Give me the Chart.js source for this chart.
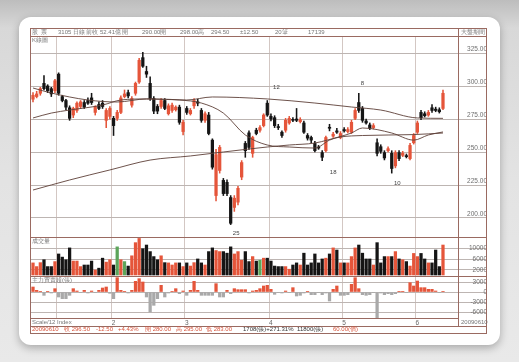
<!DOCTYPE html>
<html>
<head>
<meta charset="utf-8">
<script src="https://cdn.jsdelivr.net/npm/chart.js@4.4.1/dist/chart.umd.min.js"></script>
<style>
html, body { margin: 0; padding: 0; }
body {
    width: 519px; height: 362px; overflow: hidden; position: relative;
    background: linear-gradient(180deg, #bdbdbd 0px, #d8d8d8 28px, #e3e3e3 180px, #e9e9e9 362px);
    font-family: "Liberation Sans", "DejaVu Sans", sans-serif;
}
#card {
    position: absolute; left: 19px; top: 17px; width: 481px; height: 328px;
    background: #fff; border-radius: 12px; box-shadow: 0 3px 9px rgba(0,0,0,0.28);
}
#wrap { position: absolute; left: 0; top: 0; width: 519px; height: 362px; filter: blur(0.35px); }
canvas { position: absolute; display: block; }
.ln { position: absolute; background: #9a6a61; }
.t { position: absolute; font-size: 6px; line-height: 7px; color: #777; white-space: nowrap; }
.r { color: #d9553c; }
.k { color: #333; }
.mk { position: absolute; font-size: 6px; color: #444; transform: translate(-50%, -50%); white-space: nowrap; }
</style>
</head>
<body>
<div id="card"></div>
<div id="wrap">
    <canvas id="price" width="457" height="201" style="left:30px;top:36px"></canvas>
    <canvas id="vol" width="457" height="39" style="left:30px;top:237px"></canvas>
    <canvas id="net" width="457" height="50" style="left:30px;top:276px"></canvas>

    <!-- frame lines -->
    <div class="ln" style="left:30px;top:28px;width:457px;height:1px"></div>
    <div class="ln" style="left:30px;top:36px;width:457px;height:1px"></div>
    <div class="ln" style="left:30px;top:237px;width:457px;height:1px"></div>
    <div class="ln" style="left:30px;top:276px;width:457px;height:1px"></div>
    <div class="ln" style="left:30px;top:326px;width:457px;height:1px"></div>
    <div class="ln" style="left:30px;top:333px;width:457px;height:1px"></div>
    <div class="ln" style="left:30px;top:28px;width:1px;height:305px"></div>
    <div class="ln" style="left:486px;top:28px;width:1px;height:305px"></div>
    <div class="ln" style="left:458px;top:28px;width:1px;height:298px"></div>

    <!-- header row -->
    <span class="t" style="left:32px;top:29px">股</span>
    <span class="t" style="left:41px;top:29px">票</span>
    <span class="t" style="left:58px;top:29px">3105 日線</span>
    <span class="t" style="left:86px;top:29px">前收</span>
    <span class="t" style="left:100px;top:29px">52.41億</span>
    <span class="t" style="left:122px;top:29px">開</span>
    <span class="t" style="left:142px;top:29px">290.00開</span>
    <span class="t" style="left:180px;top:29px">298.00高</span>
    <span class="t" style="left:211px;top:29px">294.50</span>
    <span class="t" style="left:240px;top:29px">±12.50</span>
    <span class="t" style="left:275px;top:29px">20筆</span>
    <span class="t" style="left:308px;top:29px">17139</span>
    <span class="t" style="left:461px;top:29px">大盤期間</span>

    <!-- panel tags -->
    <span class="t" style="left:32px;top:37px">K線圖</span>
    <span class="t" style="left:32px;top:238px">成交量</span>
    <span class="t" style="left:32px;top:277px">主力買賣超(張)</span>

    <!-- date row and info row -->
    <span class="t" style="left:32px;top:319px">Scale/12 Index</span>
    <span class="t" style="left:461px;top:319px">20090610</span>
    <span class="t r" style="left:32px;top:326px">20090610</span>
    <span class="t r" style="left:64px;top:326px">收 296.50</span>
    <span class="t r" style="left:96px;top:326px">-12.50</span>
    <span class="t r" style="left:118px;top:326px">+4.43%</span>
    <span class="t r" style="left:145px;top:326px">開 280.00</span>
    <span class="t r" style="left:176px;top:326px">高 295.00</span>
    <span class="t r" style="left:206px;top:326px">低 283.00</span>
    <span class="t k" style="left:243px;top:326px">1708(張)+271.31%</span>
    <span class="t k" style="left:297px;top:326px">11800(張)</span>
    <span class="t r" style="left:333px;top:326px">60.00(價)</span>
</div>

<script>
// === Data (one entry per trading day) ===
var opens = [
    290, 292, 294.5, 302, 300, 298, 296.5, 309, 292, 289,
    283.5, 278, 281.5, 284.5, 287.5, 289, 291, 280, 286, 287,
    274, 277, 275.5, 275.5, 280, 292, 295, 285.5, 294.5, 303,
    321.5, 311, 302, 290.5, 284.5, 284.5, 289, 279, 281.5, 282,
    284, 265.5, 283, 279, 285, 288, 281.5, 274, 278, 259,
    217, 236, 228.5, 227, 215.5, 208, 212, 231, 256.5, 264.5,
    249, 266.5, 266.5, 270, 287, 277, 276, 269, 265, 266.5,
    272, 274.5, 275, 273, 272, 262.5, 261, 256.5, 253.5, 249.5,
    251, 268.5, 262, 266, 261, 267, 265.5, 265, 275.5, 287.5,
    283, 273.5, 270.5, 268.5, 257, 254, 249.5, 251, 249, 239.5,
    249.5, 247.5, 247, 245, 257, 265, 280, 279, 278, 283.5,
    282.5, 282, 283
];
var closes = [
    293, 294, 298, 298, 296.5, 294, 304, 294.5, 289, 284,
    275.5, 283, 287, 288, 284, 287, 287.5, 284.5, 283, 284.5,
    281.5, 283, 270, 280, 291, 294, 292.5, 290.5, 302, 319.5,
    315, 309, 290.5, 281, 281, 289, 283, 285, 285.5, 284,
    272.5, 272.5, 280, 281.5, 289, 287, 274, 279, 264, 238.5,
    248, 253.5, 218.5, 218.5, 196, 215, 222.5, 242, 251, 253.5,
    261, 264, 268.5, 278, 278, 275, 270, 268.5, 262.5, 274,
    275.5, 274, 274, 274.5, 265, 260.5, 259, 251, 253, 246,
    261, 268, 263.5, 265, 264, 266, 267, 272.5, 281.5, 281.5,
    274, 272, 268, 270, 249, 250.5, 245.5, 252.5, 237.5, 249.5,
    245, 249, 246.5, 255, 262.5, 272, 276, 277.5, 280, 281.5,
    281.5, 280.5, 294.5
];
var highs = [
    295, 296, 299, 308, 301, 299, 305, 310, 293, 290,
    285, 284, 288, 289, 289, 291, 294.5, 285, 288, 289,
    283, 284.5, 277, 281.5, 292.5, 297, 297, 292, 303, 321,
    325.5, 315, 307, 292, 286, 290.5, 290.5, 286.5, 287, 285,
    285.5, 274, 284.5, 283, 290.5, 290, 283, 280.5, 280, 260,
    252, 255, 230, 229, 217, 217, 224, 243.5, 258, 266,
    262, 268, 270, 279, 289, 279, 277.5, 271, 266, 275.5,
    277, 276, 283, 276, 273.5, 264, 262, 258, 255, 251,
    262, 271, 265, 268, 265.5, 268.5, 268.5, 274, 283, 294.5,
    284.5, 275, 272, 271.5, 260, 255.5, 251, 254, 251, 251,
    251, 250.5, 248.5, 256.5, 264, 273.5, 281.5, 280.5, 281.5, 286,
    284, 283.5, 297
];
var lows = [
    288, 291, 293, 297, 295, 292, 295, 293, 288, 282,
    274, 276, 280, 283, 283, 286, 286, 278, 282, 283,
    268.5, 275, 262.5, 274, 279, 291, 291, 284, 293, 302,
    314, 306.5, 289, 279, 279, 283, 282, 278, 280, 281,
    271, 263, 278.5, 278, 283, 285, 272.5, 272.5, 263, 237,
    213, 234, 217, 217, 195, 205, 210, 229, 246, 252,
    246, 263, 265, 269, 277, 273.5, 268.5, 267, 261, 265,
    271, 273, 273, 272, 264, 259, 257, 250, 252, 243.5,
    250, 266, 261, 264, 260, 265, 264.5, 264, 274.5, 280,
    272.5, 271, 267, 267.5, 247, 249, 244, 250, 234, 238,
    243.5, 246.5, 245.5, 244, 256, 264, 274.5, 276.5, 277, 280,
    280.5, 279.5, 282
];
var volumes = [
    4600, 3200, 4700, 5800, 3200, 3200, 5100, 8000, 6800, 5800,
    10300, 5300, 5300, 3200, 3800, 3800, 5300, 1900, 2600, 6400,
    4900, 5800, 3800, 10700, 5800, 5100, 3400, 7300, 12300, 13900,
    10000, 11400, 8900, 7000, 5800, 7300, 4700, 4600, 3800, 4600,
    4600, 3200, 4600, 3400, 4700, 6100, 4600, 3800, 8900, 10300,
    9300, 8900, 8900, 8300, 10700, 8000, 8900, 5600, 8900, 5100,
    7000, 5300, 5600, 6400, 6400, 5300, 3400, 3200, 3200, 3200,
    2200, 3800, 4600, 3800, 8300, 3800, 4600, 8000, 4600, 6100,
    6400, 8000, 10300, 9500, 4600, 4600, 4600, 7000, 10300, 11400,
    8300, 6100, 6100, 3800, 12300, 4600, 7000, 7000, 7000, 8900,
    6100, 5800, 5100, 3400, 8200, 7000, 8200, 6100, 4600, 4600,
    9500, 3200, 11400
];
var volFlatDays = [23, 25, 62];
var netBuy = [
    1500, 500, 200, -1000, 200, -300, 1000, -1500, -2000, -2000,
    -1000, 1000, 300, -200, 500, -300, 300, -200, 500, 1200,
    1500, -400, -2000, 4300, 500, 200, -300, 500, 3200, 4000,
    3000, -1500, -6000, -4000, -2000, 2000, -1500, -300, 200, 1000,
    -500, 300, -1000, 500, 3200, 500, -1000, -1000, -1000, -1000,
    2500, -1500, -1500, 500, -500, 1000, 700, 700, 700, -300,
    300, 500, 1000, 1800, 2000, 800, -700, -200, -300, 300,
    -200, 1300, -1200, -1000, -300, 200, -800, -800, -200, -800,
    -300, -2700, 800, 1800, -1000, -1000, -800, 2300, 4300, 1000,
    -800, -1000, -800, -200, -7700, -300, -800, -500, -800, -500,
    100, 100, -200, 2800, 1800, 3300, 1300, 1300, 800, 800,
    300, -200, 200
];
// moving average lines, read as [day, value]
var maShort = [[0, 275.8], [5, 279.5], [10, 281.8], [19, 285.6], [24, 289.4], [31, 290.2], [40, 289.4],
    [46, 287.1], [52, 279.5], [58, 262.9], [64, 255.3], [70, 253.8], [77, 253], [81, 259],
    [87, 264.4], [90, 268.2], [98, 264.4], [104, 259], [108, 262.9], [112, 265.2]];
var maMid = [[0, 298.5], [5, 294.7], [15, 289.4], [23, 287.9], [31, 290.2], [42, 289.4], [49, 291.7],
    [64, 290.2], [77, 287.1], [87, 284.1], [95, 281.8], [105, 275.8], [112, 275.5]];
var maLong = [[0, 221.2], [10, 228.8], [21, 236.4], [32, 243.9], [43, 247], [52, 250], [64, 253.8],
    [70, 255.3], [77, 256.8], [84, 261.4], [90, 262.5], [104, 263.2], [112, 264.4]];

var monthStart = [6.5, 21.5, 41.5, 64.5, 84.5, 104.5];
var monthText = ['', '2', '3', '4', '5', '6'];
var priceTicks = [200, 225, 250, 275, 300, 325];
var volTicks = [2000, 6000, 10000];
var netTicks = [-6000, -3000, 0, 3000];

var markIdx = [55.5, 66.5, 82, 90, 99.5];
var markVal = [188.5, 299, 235, 302.5, 226.5];
var markText = ['25', '12', '18', '8', '10'];

// === Styles ===
var UP = '#e5553a';
var DOWN = '#151515';
var FLAT = '#5da55a';
var GRID_V = '#d3c7c3';
var GRID_H = '#bdb5b2';
var LABEL = '#6f6f6f';
var MA_COLOR = '#5e4038';

Chart.defaults.font.family = '"Liberation Sans", "DejaVu Sans", sans-serif';
Chart.defaults.font.size = 6.5;
Chart.defaults.color = LABEL;

function isUp(i) { return closes[i] >= opens[i]; }

function xAxis(showLabels) {
    return {
        type: 'linear',
        min: -0.82,
        max: 116.1,
        offset: false,
        afterBuildTicks: function(s) {
            s.ticks = monthStart.map(function(v) { return { value: v }; });
        },
        afterFit: function(s) {
            s.height = showLabels ? 8 : 0;
            s.paddingLeft = 0;
            s.paddingRight = 0;
        },
        grid: { color: GRID_V, drawTicks: false, offset: false },
        border: { display: showLabels, color: '#9a6a61' },
        ticks: {
            display: showLabels,
            autoSkip: false,
            maxRotation: 0,
            align: 'start',
            padding: 1,
            color: '#666',
            callback: function(v, i) { return monthText[i]; }
        }
    };
}

function yAxis(min, max, ticks, fmt, lblOffset) {
    return {
        position: 'right',
        min: min,
        max: max,
        afterBuildTicks: function(s) {
            s.ticks = ticks.map(function(v) { return { value: v }; });
        },
        afterFit: function(s) {
            s.width = 29;
            s.paddingTop = 0;
            s.paddingBottom = 0;
        },
        grid: { color: GRID_H, tickColor: GRID_H, tickLength: 29, drawTicks: true },
        border: { display: false },
        ticks: { crossAlign: 'far', padding: -29, labelOffset: lblOffset, color: LABEL, callback: fmt }
    };
}

function maLine(points) {
    return {
        type: 'line',
        data: points.map(function(p) { return { x: p[0], y: p[1] }; }),
        borderColor: MA_COLOR,
        borderWidth: 0.9,
        pointRadius: 0,
        cubicInterpolationMode: 'monotone',
        order: 0
    };
}

var baseOptions = {
    responsive: false,
    animation: false,
    events: [],
    layout: { padding: 0 },
    plugins: { legend: { display: false }, tooltip: { enabled: false } }
};

// --- price panel ---
var wickData = lows.map(function(l, i) { return { x: i, y: [l, highs[i]] }; });
var bodyData = opens.map(function(o, i) {
    return { x: i, y: [Math.min(o, closes[i]), Math.max(o, closes[i])] };
});
var candleColor = function(ctx) { return isUp(ctx.dataIndex) ? UP : DOWN; };

var markerPlugin = {
    id: 'markers',
    afterDraw: function(chart) {
        var wrap = document.getElementById('wrap');
        markIdx.forEach(function(ix, k) {
            var el = document.getElementById('mk' + k);
            if (!el) {
                el = document.createElement('span');
                el.id = 'mk' + k;
                el.className = 'mk';
                el.textContent = markText[k];
                wrap.appendChild(el);
            }
            el.style.left = (30 + chart.scales.x.getPixelForValue(ix)) + 'px';
            el.style.top = (36 + chart.scales.y.getPixelForValue(markVal[k])) + 'px';
        });
    }
};

new Chart(document.getElementById('price'), {
    type: 'bar',
    data: {
        datasets: [
            maLine(maShort), maLine(maMid), maLine(maLong),
            { data: wickData, grouped: false, barThickness: 0.9, backgroundColor: candleColor, order: 2 },
            { data: bodyData, grouped: false, barThickness: 2.6, minBarLength: 1, backgroundColor: candleColor, order: 1 }
        ]
    },
    options: Object.assign({}, baseOptions, {
        scales: {
            x: xAxis(false),
            y: yAxis(185.6, 337.9, priceTicks, function(v) { return v.toFixed(2); }, -4)
        }
    }),
    plugins: [markerPlugin]
});

// --- volume panel ---
new Chart(document.getElementById('vol'), {
    type: 'bar',
    data: {
        datasets: [{
            data: volumes.map(function(v, i) { return { x: i, y: v }; }),
            barThickness: 2.6,
            backgroundColor: function(ctx) {
                var i = ctx.dataIndex;
                if (volFlatDays.indexOf(i) >= 0) return FLAT;
                return isUp(i) ? UP : DOWN;
            }
        }]
    },
    options: Object.assign({}, baseOptions, {
        scales: {
            x: xAxis(false),
            y: yAxis(-380, 14450, volTicks, function(v) { return String(v); }, 0)
        }
    })
});

// --- net buy / sell panel ---
new Chart(document.getElementById('net'), {
    type: 'bar',
    data: {
        datasets: [{
            data: netBuy.map(function(v, i) { return { x: i, y: v }; }),
            barThickness: 2.6,
            backgroundColor: function(ctx) { return netBuy[ctx.dataIndex] >= 0 ? UP : '#a9a9a9'; }
        }]
    },
    options: Object.assign({}, baseOptions, {
        scales: {
            x: xAxis(true),
            y: yAxis(-7800, 4800, netTicks, function(v) { return String(v); }, 0)
        }
    })
});
</script>
</body>
</html>
